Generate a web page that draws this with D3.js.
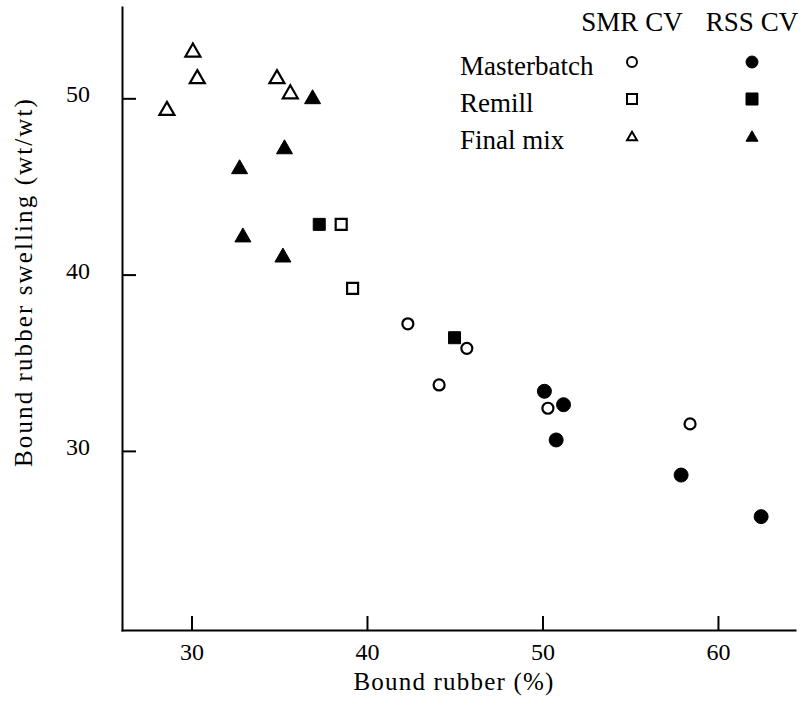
<!DOCTYPE html>
<html lang="en">
<head>
    <meta charset="UTF-8">
    <title>Bound rubber swelling</title>
    <script src="https://d3js.org/d3.v7.min.js"></script>
    <style>
        body { margin: 0; background: #fff; }
        svg { display: block; }
        text { font-family: 'Liberation Serif', 'Times New Roman', serif; fill: #000; }
        .axis path, .axis line { stroke: #000; stroke-width: 2px; }
        .axis text { font-size: 24px; }
        .legend text { font-size: 27px; }
        .title { font-size: 25px; }
    </style>
</head>
<body>
    <svg width="807" height="710"></svg>
    <script>
        // values: [bound rubber %, swelling wt/wt]
        const smrMasterbatch = [[42.33, 37.21], [45.69, 35.82], [44.11, 33.74], [50.31, 32.42], [58.41, 31.53]];
        const rssMasterbatch = [[50.11, 33.38], [51.20, 32.62], [50.78, 30.62], [57.90, 28.63], [62.46, 26.27]];
        const smrRemill = [[38.53, 42.85], [39.18, 39.22]];
        const rssRemill = [[37.28, 42.85], [44.99, 36.42]];
        const smrFinal = [[30.08, 52.74], [30.33, 51.23], [28.60, 49.43], [34.87, 51.23], [35.63, 50.37]];
        const rssFinal = [[36.90, 50.09], [35.30, 47.25], [32.74, 46.12], [32.93, 42.25], [35.21, 41.11]];

        const xTicks = [30, 40, 50, 60];
        const yTicks = [30, 40, 50];
        const legendRows = ["Masterbatch", "Remill", "Final mix"];
        const legendCols = ["SMR CV", "RSS CV"];

        const svg = d3.select("svg");

        const x = d3.scaleLinear().domain([26.04, 64.39]).range([122, 795]);
        const y = d3.scaleLinear().domain([19.84, 55.18]).range([630, 7]);

        // marker shapes, centred on their bounding box
        function shape(kind, s) {
            if (kind === "circle") return d3.symbol(d3.symbolCircle, Math.PI * s * s / 4)();
            if (kind === "square") return `M${-s/2},${-s/2}h${s}v${s}h${-s}Z`;
            const h = s * 0.87;
            return `M0,${-h/2}L${s/2},${h/2}L${-s/2},${h/2}Z`;
        }

        // axes
        svg.append("g")
            .attr("class", "axis")
            .attr("transform", "translate(0,630)")
            .call(d3.axisBottom(x).tickValues(xTicks).tickSizeInner(-14).tickSizeOuter(0).tickPadding(13));

        const yAxis = svg.append("g")
            .attr("class", "axis")
            .attr("transform", "translate(122,0)")
            .call(d3.axisLeft(y).tickValues(yTicks).tickSizeInner(-14).tickSizeOuter(0).tickPadding(32));
        yAxis.selectAll("text").attr("dy", "0.15em");
        svg.selectAll(".axis .domain").attr("stroke-linecap", "square");

        // axis titles
        svg.append("text")
            .attr("class", "title")
            .attr("x", 454)
            .attr("y", 690)
            .attr("text-anchor", "middle")
            .style("letter-spacing", "1.2px")
            .text("Bound rubber (%)");

        svg.append("text")
            .attr("class", "title")
            .attr("transform", "translate(32,282) rotate(-90)")
            .attr("text-anchor", "middle")
            .style("letter-spacing", "2.1px")
            .text("Bound rubber swelling (wt/wt)");

        // data series
        const series = [
            { data: smrFinal, kind: "triangle", filled: false, size: 15 },
            { data: rssFinal, kind: "triangle", filled: true, size: 16 },
            { data: rssRemill, kind: "square", filled: true, size: 12 },
            { data: smrRemill, kind: "square", filled: false, size: 11 },
            { data: rssMasterbatch, kind: "circle", filled: true, size: 14 },
            { data: smrMasterbatch, kind: "circle", filled: false, size: 11 }
        ];

        series.forEach(s => {
            svg.append("g").selectAll("path")
                .data(s.data)
                .enter()
                .append("path")
                .attr("transform", d => `translate(${x(d[0])},${y(d[1])})`)
                .attr("d", shape(s.kind, s.size))
                .attr("fill", s.filled ? "#000" : "#fff")
                .attr("stroke", "#000")
                .attr("stroke-width", s.filled ? 1 : 2.2);
        });

        // legend
        const legend = svg.append("g").attr("class", "legend");
        const colX = [632, 752];
        const rowY = [62, 99, 136];
        const kinds = ["circle", "square", "triangle"];

        legend.selectAll("text.col")
            .data(legendCols)
            .enter()
            .append("text")
            .attr("class", "col")
            .attr("x", (d, i) => colX[i])
            .attr("y", 31)
            .attr("text-anchor", "middle")
            .text(d => d);

        legend.selectAll("text.row")
            .data(legendRows)
            .enter()
            .append("text")
            .attr("class", "row")
            .attr("x", 460)
            .attr("y", (d, i) => rowY[i] + 13)
            .text(d => d);

        legendRows.forEach((r, i) => {
            legendCols.forEach((c, j) => {
                legend.append("path")
                    .attr("transform", `translate(${colX[j]},${rowY[i]})`)
                    .attr("d", shape(kinds[i], j === 0 ? 10 : 12))
                    .attr("fill", j === 0 ? "#fff" : "#000")
                    .attr("stroke", "#000")
                    .attr("stroke-width", j === 0 ? 2 : 1);
            });
        });
    </script>
</body>
</html>
